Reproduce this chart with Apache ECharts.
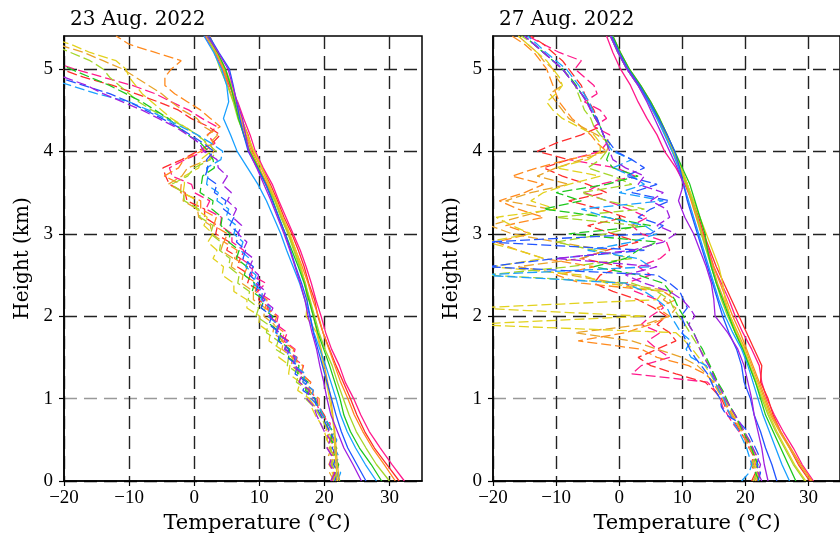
<!DOCTYPE html>
<html><head><meta charset="utf-8">
<script src="https://cdn.jsdelivr.net/npm/echarts@6/dist/echarts.min.js"></script>
<style>html,body{margin:0;padding:0;background:#fff}#c{width:840px;height:537px}</style>
</head><body><div id="c"></div><script>
// ---- data ----
const titles = ['23 Aug. 2022', '27 Aug. 2022'];
const xName = 'Temperature (\u00B0C)';
const yName = 'Height (km)';
const xTicks = [-20, -10, 0, 10, 20, 30];
const yTicks = [0, 1, 2, 3, 4, 5];
const colors = ['#ff1a8c','#ff2d2d','#ff8a1e','#e8a42a','#e2d21e','#a4d62a','#1ec81e','#1aa0ff','#2255ff','#a020e0'];

// temperature heights (km)
const levelsT = [0.0,0.2,0.4,0.6,0.8,1.0,1.2,1.4,1.6,1.8,2.0,2.2,2.4,2.6,2.8,3.0,3.2,3.4,3.6,3.8,4.0,4.2,4.4,4.6,4.8,5.0,5.2,5.4];
// dew point heights (km)
const levelsTd = [0.0,0.1,0.2,0.3,0.4,0.5,0.6,0.7,0.8,0.9,1.0,1.1,1.2,1.3,1.4,1.5,1.6,1.7,1.8,1.9,2.0,2.1,2.2,2.3,2.4,2.5,2.6,2.7,2.8,2.9,3.0,3.1,3.2,3.3,3.4,3.5,3.6,3.7,3.8,3.9,4.0,4.1,4.2,4.3,4.4,4.5,4.6,4.7,4.8,4.9,5.0,5.1,5.2,5.3,5.4];

// 23 Aug temperature profiles (°C), one per sounding
const aug23Temp = [
 [32.3,30.4,28.6,26.9,25.6,24.5,23.2,22.3,21.1,20.2, 19.5,18.7,18.0,17.2,16.3,15.2,14.1,13.0,12.0,10.6, 9.4,8.6,7.6,6.7,5.4,4.3,3.2,1.6],
 [31.5,29.6,27.7,26.2,25.0,24.0,22.9,21.8,20.8,19.8, 19.0,18.5,17.6,16.9,16.0,15.0,13.8,12.8,11.7,10.4, 9.0,8.3,7.2,6.3,5.5,4.6,3.4,2.2],
 [30.9,29.2,27.4,25.9,24.6,23.6,22.5,21.6,20.7,19.8, 19.1,18.2,17.5,16.6,15.6,14.6,13.5,12.5,11.2,10.0, 8.8,7.9,7.0,6.1,5.2,4.4,3.5,2.4],
 [22.3,22.0,21.8,21.6,21.3,21.0,20.5,20.0,19.5,18.9, 18.3,17.7,17.1,16.3,15.4,14.5,13.4,12.4,11.4,10.3, 9.1,8.0,7.2,6.4,5.6,4.6,3.3,1.8],
 [22.0,21.8,21.6,21.5,21.2,20.8,20.3,19.8,19.4,18.8, 17.2,17.4,17.0,16.4,15.6,14.7,13.6,12.6,11.5,10.4, 9.2,8.2,7.3,6.6,5.8,4.8,3.5,2.0],
 [30.0,28.0,26.4,24.9,23.8,22.9,22.0,21.2,20.1,19.2, 18.5,17.8,17.0,16.2,15.3,14.4,13.3,12.4,11.0,9.9, 8.6,7.7,6.7,6.0,5.1,4.0,3.1,2.0],
 [28.8,27.2,25.4,24.0,23.0,22.4,21.6,20.8,19.9,19.0, 18.3,17.6,16.9,16.0,15.0,14.0,13.0,12.1,11.0,9.8, 8.5,7.6,6.8,6.2,5.6,4.8,3.6,2.1],
 [28.0,26.3,24.8,23.5,22.5,21.8,21.0,20.2,19.3,18.4, 17.8,17.0,16.2,15.2,14.2,13.3,12.2,11.1,9.8,8.2, 6.6,5.6,4.5,5.3,5.0,4.2,3.0,1.5],
 [26.4,25.0,23.6,22.6,21.8,21.1,20.4,19.7,19.0,18.3, 17.8,17.3,16.5,15.6,14.8,14.0,13.0,12.0,11.0,9.7, 8.3,7.6,7.0,6.5,6.0,5.4,3.8,2.3],
 [25.7,24.4,23.0,22.0,21.0,20.4,19.9,19.3,18.8,18.1, 17.5,17.0,16.3,15.5,14.7,13.8,12.8,11.8,10.7,9.6, 8.4,7.9,7.4,6.6,5.9,5.2,3.7,2.0]
];
// 23 Aug dew point profiles (°C)
const aug23Dew = [
 [21.2,21.8,21.0,21.5,20.8,21.4,20.6,20.9,19.6,19.0, 18.9,17.6,17.9,16.4,16.8,15.2,15.5,13.8,14.3,12.6, 12.9,11.2,11.6,9.7,11.0,8.8,9.0,7.2,7.6,5.8, 5.8,4.0,4.2,1.8,2.4,0.0,-0.4,-3.4,-3.8,-1.4, 1.5,3.2,2.0,3.5,1.2,-0.8,-3.5,-6.0,-9.5,-14.0, -18.5,-22,-24,-25,-26],
 [22.0,21.4,21.9,21.2,21.6,20.9,21.3,20.5,20.0,19.2, 18.0,18.3,16.7,17.0,15.5,15.8,14.0,14.5,12.6,13.1, 11.4,11.6,9.9,10.2,8.2,8.6,6.6,7.1,5.0,5.4, 3.3,3.6,1.6,1.6,-1.1,-1.4,-3.8,-4.4,-4.8,-1.9, 0.5,2.8,4.0,2.2,-0.5,-2.4,-5.5,-9.0,-12.5,-17.0, -20.5,-23,-25,-26,-27],
 [21.0,21.5,20.7,21.2,20.5,21.0,20.2,20.6,19.8,19.2, 19.2,17.5,17.9,16.5,16.7,15.0,15.3,13.4,13.9,12.2, 12.7,10.9,11.2,9.4,9.6,7.6,8.2,6.2,6.6,4.6, 5.1,3.0,3.4,1.0,1.0,-2.1,-2.0,-4.6,-2.4,-1.6, 1.0,3.0,2.0,4.0,2.5,1.0,-1.0,-3.0,-4.5,-4.5, -3.5,-2.0,-6.0,-10.0,-12.0],
 [21.5,20.8,21.3,20.6,21.1,20.4,20.8,20.0,19.4,18.6, 17.6,17.9,16.1,16.5,14.9,15.1,13.5,13.7,12.1,12.3, 10.7,10.9,9.1,9.1,7.3,7.5,5.7,6.0,4.1,4.5, 2.7,2.5,0.7,0.5,-1.7,-1.5,-4.0,-1.9,-1.0,2.3, 3.0,2.4,3.6,1.5,0.4,-1.8,-3.5,-5.0,-7.0,-9.0, -11.0,-14.0,-17.0,-21.0,-24.0],
 [21.8,21.2,21.6,20.9,21.0,20.4,20.0,19.4,18.6,18.0, 17.7,15.9,16.3,14.5,14.7,13.0,13.3,11.5,11.7,9.9, 10.1,8.1,8.1,6.1,6.1,4.3,4.5,2.9,3.5,2.1, 2.9,1.5,2.0,0.3,0.5,-1.7,-1.5,-1.5,0.7,1.0, 2.6,1.8,0.5,-1.5,-3.5,-5.0,-6.5,-8.0,-9.0,-10.0, -10.5,-12.0,-16.0,-19.0,-23.0],
 [21.4,21.9,21.1,21.5,20.8,21.2,20.6,20.0,19.2,18.4, 17.1,17.5,15.7,16.1,14.3,14.5,12.5,12.9,11.1,11.3, 9.5,9.9,8.3,8.5,6.7,6.9,5.3,5.5,3.9,4.1, 2.5,2.9,0.9,0.7,-1.5,-1.7,-3.5,-1.0,0.0,2.5, 3.4,2.0,0.5,-1.5,-4.0,-6.5,-8.5,-10.0,-11.5,-13.0, -14.0,-16.0,-19.0,-22.0,-25.0],
 [22.4,21.8,22.2,21.5,21.9,21.0,21.3,20.5,19.8,19.0, 18.6,17.1,17.5,15.9,16.1,14.5,14.7,13.1,13.3,11.7, 12.1,10.3,10.7,8.9,9.3,7.7,8.1,6.5,6.9,5.3, 5.5,4.1,4.3,2.7,2.9,0.9,1.1,1.3,3.1,2.9, 2.2,1.0,-1.0,-2.5,-4.0,-6.0,-8.0,-10.5,-13.0,-16.0, -19.0,-22.0,-24.0,-26.0,-27.0],
 [22.0,22.5,21.8,22.2,21.6,21.9,21.2,20.6,19.8,19.2, 17.9,18.3,16.7,17.1,15.3,15.7,13.9,14.3,12.5,12.9, 11.3,11.7,10.3,10.5,9.1,9.5,7.9,8.5,7.1,7.5, 6.1,6.5,4.9,5.3,3.5,3.7,1.9,2.1,1.9,4.1, 4.4,2.6,0.5,-2.0,-4.5,-7.0,-10.0,-15.0,-19.0,-23.0, -25.0,-26.0,-27.0,-27.5,-28.0],
 [21.6,22.1,21.4,21.9,21.2,21.6,20.8,20.2,19.4,18.8, 18.5,16.7,17.3,15.5,15.9,14.3,14.5,12.9,13.1,11.5, 11.9,10.3,10.9,9.5,9.9,8.5,9.1,7.5,7.9,6.5, 6.9,5.5,6.1,4.5,4.9,3.1,3.5,1.7,2.1,1.9, 3.0,1.4,-0.6,-2.6,-5.0,-7.5,-10.0,-13.0,-17.0,-21.0, -23.0,-24.0,-25.0,-26.0,-27.0],
 [21.0,21.6,20.8,21.2,20.4,20.9,20.0,19.4,18.8,18.4, 17.3,17.7,16.1,16.7,15.1,15.5,13.9,14.3,12.7,13.1, 11.5,12.1,10.5,11.0,9.5,9.9,8.5,9.1,7.5,8.1, 6.7,7.3,5.9,6.5,5.1,5.7,4.3,5.1,3.7,3.5, 1.5,0.8,-1.0,-3.0,-5.5,-8.0,-11.0,-14.0,-16.5,-20.0, -24.0,-26.0,-27.0,-28.0,-28.0]
];

// 27 Aug temperature profiles (°C)
const aug27Temp = [
 [30.8,29.0,27.6,26.0,24.6,23.4,22.6,22.2,21.0,19.6, 18.4,17.4,16.2,15.0,14.2,13.2,12.4,11.5,10.4,9.0, 7.2,6.0,4.4,3.0,1.8,0.2,-1.0,-2.0],
 [30.2,28.4,27.0,25.6,24.4,23.6,22.4,22.6,21.4,20.2, 19.0,17.8,16.6,15.4,14.4,13.4,12.6,11.6,10.8,9.8, 8.6,7.4,6.0,4.6,3.0,1.2,-0.2,-1.4],
 [30.6,28.8,27.2,25.6,24.2,23.2,22.2,21.2,20.2,19.2, 18.0,17.0,16.0,15.0,14.0,13.0,12.2,11.4,10.6,9.6, 8.5,7.4,6.2,4.8,3.3,1.4,0.0,-1.2],
 [30.4,28.6,27.0,25.4,24.0,23.0,22.0,21.0,20.0,18.8, 17.6,16.6,15.6,14.8,14.0,13.2,12.4,11.6,10.8,9.8, 8.7,7.6,6.4,5.0,3.4,1.6,0.2,-1.0],
 [29.6,27.8,26.4,25.0,23.8,22.8,21.8,20.8,19.8,18.6, 17.6,16.8,16.4,15.8,14.8,13.8,12.8,11.8,10.8,9.8, 8.6,7.5,6.2,4.8,3.2,1.5,0.0,-1.2],
 [29.4,27.6,26.2,24.8,23.6,22.6,21.6,20.6,19.6,18.4, 17.2,16.2,15.4,14.6,13.8,13.0,12.4,11.6,10.6,9.6, 8.4,7.3,6.0,4.6,3.1,1.3,-0.2,-1.3],
 [28.0,26.8,25.6,24.4,23.2,22.4,21.6,20.6,19.6,18.4, 17.4,16.4,15.4,14.6,14.0,13.6,12.8,12.0,11.2,10.0, 8.8,7.6,6.4,5.0,3.4,1.6,0.2,-1.0],
 [27.0,25.8,24.8,23.8,22.8,22.0,21.2,20.4,19.4,18.0, 16.8,15.8,15.0,14.2,13.4,12.6,11.8,11.0,10.2,9.4, 8.4,7.2,6.0,4.6,3.0,1.2,-0.2,-1.4],
 [25.0,24.2,23.2,22.4,21.4,20.8,19.8,19.4,18.6,17.4, 16.4,15.6,14.8,14.0,13.2,12.4,11.6,10.8,10.2,9.6, 8.8,7.6,6.2,4.8,3.2,1.4,0.0,-1.2],
 [23.6,23.0,22.6,22.0,21.4,21.0,20.4,19.8,18.8,17.2, 15.2,15.0,14.6,13.8,12.8,11.8,10.4,9.4,10.2,9.2, 8.0,6.8,5.6,4.4,3.0,1.2,-0.2,-1.4]
];
// 27 Aug dew point profiles (°C)
const aug27Dew = [
 [21.5,22.0,21.3,21.6,20.8,20.2,19.0,18.0,17.2,16.4, 16.0,15.2,14.0,2.0,3.5,8.0,6.0,4.5,6.5,3.5, 5.0,7.0,6.0,2.5,1.0,5.0,3.0,6.5,8.0,7.5, 3.5,2.0,4.5,1.5,-2.0,-5.5,-3.0,2.5,-0.5,-8.0, -3.0,-2.0,-1.5,-4.0,-2.0,-3.0,-5.5,-3.5,-4.0,-5.5, -7.0,-6.0,-9.5,-12.0,-14.5],
 [21.0,21.6,20.9,21.3,20.6,20.0,19.2,18.4,17.6,16.8, 16.2,15.0,13.6,9.0,5.0,3.0,6.0,9.0,8.0,6.0, 7.5,5.5,3.0,-1.0,-4.0,-3.0,0.5,-6.0,-2.0,3.0, -1.0,-5.0,1.0,-3.0,-8.0,-2.0,-5.0,-9.0,-12.0,-8.0, -13.0,-10.0,-6.0,-3.0,-3.5,-4.0,-4.8,-5.5,-6.0,-7.0, -8.0,-9.0,-10.5,-12.0,-14.0],
 [21.8,22.3,21.6,21.9,21.0,20.4,19.6,18.8,18.0,17.2, 16.6,15.8,15.0,13.6,11.0,6.0,3.5,-6.5,1.0,5.0, 8.0,6.0,9.0,7.0,-6.0,-10.0,-4.0,-12.0,-16.0,-19.5, -14.0,-18.0,-12.0,-16.0,-19.0,-15.0,-12.0,-17.0,-13.0,-8.0, -2.0,-3.5,-4.5,-6.0,-7.5,-8.5,-9.5,-10.0,-10.5,-11.0, -11.5,-12.5,-13.5,-15.0,-17.0],
 [21.2,21.8,21.0,21.5,20.6,20.0,19.4,18.6,17.8,17.0, 16.4,15.6,14.8,13.8,12.4,10.0,6.0,2.0,-7.0,4.0, 8.0,9.0,7.0,8.5,0.0,-8.0,-16.0,-6.0,-2.0,-10.0, -17.0,-20.5,-16.0,-11.0,-18.0,-14.0,-8.0,-13.0,-10.0,-6.0, -2.0,-1.5,-3.5,-6.0,-8.0,-9.0,-10.0,-11.0,-9.0,-10.0, -10.5,-12.0,-13.0,-14.5,-16.0],
 [21.6,22.0,21.4,21.8,21.2,20.6,19.8,19.0,18.2,17.4, 16.8,16.0,15.2,14.4,13.6,12.6,11.6,10.4,9.0,-24.0, 4.0,-23.0,6.0,7.0,-2.0,-6.0,-20.0,-12.0,-16.0,-21.0, -14.0,-17.0,-19.5,-10.0,-14.0,-12.0,-8.0,-3.0,-10.0,-5.0, -3.0,-3.0,-4.0,-6.5,-9.0,-10.5,-11.5,-10.0,-9.0,-9.5, -10.5,-11.5,-13.0,-14.5,-16.0],
 [21.3,21.8,21.1,21.5,20.9,20.4,19.9,19.0,18.4,17.6, 16.8,16.2,15.6,15.0,14.2,13.6,12.8,12.0,11.2,10.4, 9.4,8.6,8.0,6.0,2.0,-21.0,-8.0,2.0,-4.0,-10.0, -2.0,3.0,-10.0,4.0,-2.0,-6.0,2.0,-1.0,-5.0,-3.0, -2.0,-1.5,-3.0,-4.0,-4.5,-5.5,-6.0,-6.5,-7.0,-8.0, -9.0,-10.5,-12.0,-13.5,-15.5],
 [22.2,21.6,22.0,21.4,21.0,20.4,19.6,19.0,18.4,17.6, 17.0,16.4,15.6,15.0,14.4,13.8,13.2,12.4,11.8,11.0, 10.2,9.4,8.8,8.0,7.0,3.0,-4.0,1.0,3.0,6.0, -8.0,5.0,-2.0,-12.0,-6.0,-10.0,-2.0,3.0,-1.0,-2.0, -1.5,-2.0,-2.5,-3.0,-3.8,-4.5,-5.0,-6.0,-6.8,-7.8, -9.0,-10.5,-12.0,-13.5,-15.0],
 [19.4,20.6,21.0,20.6,20.2,19.6,19.0,18.2,17.6,17.0, 16.6,15.8,15.2,14.6,13.8,11.4,10.6,11.4,9.8,9.0, 8.2,7.6,6.0,4.0,1.0,-22.0,5.0,3.0,-5.0,2.0, 6.0,4.0,-2.0,-6.0,7.0,0.0,4.0,2.0,-1.0,2.0, -1.0,-2.0,-2.5,-3.0,-3.6,-4.2,-4.8,-5.6,-6.4,-7.4, -8.4,-10.0,-11.6,-13.0,-14.5],
 [22.0,22.4,21.8,22.2,21.6,21.0,20.4,19.2,17.0,16.2, 16.0,15.2,14.6,14.0,13.0,12.0,11.2,10.6,10.0,10.4, 9.8,10.8,10.2,9.6,8.0,6.0,-21.0,-10.0,4.0,-21.0, 5.0,7.0,3.0,5.0,8.0,2.0,6.0,1.0,4.0,2.0, -0.5,-1.5,-2.5,-3.0,-3.5,-4.5,-5.0,-6.0,-7.0,-8.0, -9.0,-10.5,-12.0,-13.5,-15.0],
 [22.6,22.0,22.4,21.8,21.2,20.6,19.8,19.2,18.4,17.6, 16.8,16.2,15.4,14.8,14.2,13.4,12.8,12.4,11.8,11.0, 12.0,11.2,10.0,8.0,4.0,1.0,6.0,-10.0,2.0,7.0, 9.0,6.0,8.0,7.5,5.0,7.0,3.0,4.0,1.0,-1.0, -1.5,-2.0,-2.5,-3.0,-3.8,-4.5,-5.2,-6.0,-7.0,-8.0, -9.0,-10.5,-12.0,-13.5,-15.0]
];

// ---- chart ----
const TICK_FONT = 'Liberation Serif';
const TEXT_FONT = 'DejaVu Serif';
const fmt = v => (v < 0 ? '\u2212' + (-v) : String(v));

function pairs(vals, levels) { return vals.map((v, i) => [v, levels[i]]); }

function xAxisFor(g) {
  return {
    type: 'value', gridIndex: g, min: -20, max: 35, interval: 10,
    axisLine: { show: true, onZero: false, lineStyle: { color: '#000', width: 1.5 } },
    axisTick: { show: true, inside: false, length: 5, customValues: xTicks, lineStyle: { color: '#000', width: 1.2 } },
    axisLabel: { customValues: xTicks, formatter: fmt, color: '#000', fontFamily: TICK_FONT, fontSize: 19, margin: 8 },
    splitLine: { show: true, lineStyle: { color: '#222', width: 1.4, type: [13, 7] } }
  };
}
function yAxisFor(g) {
  return {
    type: 'value', gridIndex: g, min: 0, max: 5.4, interval: 1,
    name: yName, nameLocation: 'middle', nameGap: 31, nameRotate: 90,
    nameTextStyle: { fontFamily: TEXT_FONT, fontSize: 20, color: '#000' },
    axisLine: { show: true, onZero: false, lineStyle: { color: '#000', width: 1.5 } },
    axisTick: { show: true, inside: false, length: 5, customValues: yTicks, lineStyle: { color: '#000', width: 1.2 } },
    axisLabel: { customValues: yTicks, formatter: fmt, color: '#000', fontFamily: TICK_FONT, fontSize: 19, margin: 11 },
    splitLine: { show: true, lineStyle: { color: ['#000', '#999', '#222', '#222', '#222', '#222', '#222'], width: 1.4, type: [13, 7] } }
  };
}

const series = [];
function addPanel(g, temps, dews) {
  dews.forEach((d, i) => series.push({
    type: 'line', xAxisIndex: g, yAxisIndex: g, data: pairs(d, levelsTd),
    symbol: 'none', silent: true, animation: false, clip: true,
    lineStyle: { color: colors[i], width: 1.3, type: [10, 4] }
  }));
  temps.forEach((t, i) => series.push({
    type: 'line', xAxisIndex: g, yAxisIndex: g, data: pairs(t, levelsT),
    symbol: 'none', silent: true, animation: false, clip: true,
    lineStyle: { color: colors[i], width: 1.3 }
  }));
}
addPanel(0, aug23Temp, aug23Dew);
addPanel(1, aug27Temp, aug27Dew);

const textStyle = (t, x, y) => ({
  type: 'text', x: x, y: y, silent: true,
  style: { text: t, fill: '#000', font: '20px "' + TEXT_FONT + '"', textAlign: 'left', textVerticalAlign: 'middle' }
});
const nameStyle = (t, x, y) => ({
  type: 'text', x: x, y: y, silent: true,
  style: { text: t, fill: '#000', font: '21px "' + TEXT_FONT + '"', textAlign: 'center', textVerticalAlign: 'middle' }
});

const chart = echarts.init(document.getElementById('c'), null, { renderer: 'canvas' });
chart.setOption({
  animation: false,
  backgroundColor: '#fff',
  grid: [
    { left: 64, top: 36, width: 358, height: 445, show: true, borderColor: '#000', borderWidth: 1.5, backgroundColor: 'transparent' },
    { left: 493, top: 36, width: 360, height: 445, show: true, borderColor: '#000', borderWidth: 1.5, backgroundColor: 'transparent' }
  ],
  xAxis: [xAxisFor(0), xAxisFor(1)],
  yAxis: [yAxisFor(0), yAxisFor(1)],
  series: series,
  graphic: [
    textStyle(titles[0], 70, 20),
    textStyle(titles[1], 499, 20),
    nameStyle(xName, 257, 524),
    nameStyle(xName, 687, 524)
  ]
});
</script></body></html>
